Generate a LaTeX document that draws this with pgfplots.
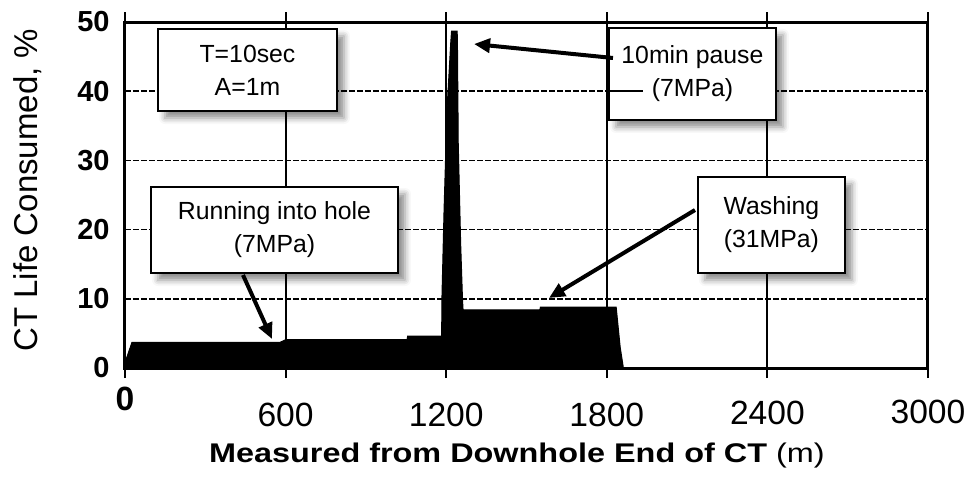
\documentclass[border=0pt]{standalone}
\usepackage{fontspec}
\setmainfont{Liberation Sans}
\newfontfamily\widefont[FakeStretch=1.2]{Liberation Sans}
\usepackage{pgfplots}
\pgfplotsset{compat=1.18}
\usetikzlibrary{arrows.meta,shadows.blur}

\tikzset{
  callout/.style={draw=black, line width=1bp, fill=white, align=center,
    inner sep=0pt, font=\fontsize{12.4bp}{16.5bp}\selectfont,
    blur shadow={shadow xshift=3.5bp, shadow yshift=-3.5bp,
      shadow blur radius=3bp, shadow opacity=45}},
  pointer/.style={line width=2bp, -{Triangle[length=8bp,width=7bp]}}
}

\begin{document}
\begin{tikzpicture}
\useasboundingbox (-62.5bp,-54.5bp) rectangle (420.5bp,184bp);
\begin{axis}[
  scale only axis, width=401.5bp, height=173bp,
  xmin=0, xmax=3000, ymin=0, ymax=50,
  xtick={0,600,1200,1800,2400,3000},
  xticklabels={\raisebox{8bp}{\textbf{0}},600,1200,1800,\raisebox{1bp}{2400},\raisebox{1.5bp}{3000}},
  ytick={0,10,20,30,40,50},
  /pgf/number format/assume math mode=true,
  axis line style={line width=1.5bp},
  xmajorgrids, ymajorgrids,
  x grid style={black, line width=1bp},
  y grid style={black, line width=0.8bp, dash pattern=on 3bp off 1bp},
  xtick align=outside, major tick length=5bp,
  xtick style={black, line width=1bp},
  ytick style={draw=none},
  xticklabel style={font=\fontsize{16.8bp}{18bp}\selectfont, anchor=base,
    inner sep=0pt, yshift=-24bp},
  yticklabel style={font=\fontsize{14.5bp}{16bp}\selectfont\bfseries,
    anchor=east, inner sep=0pt, xshift=-7.5bp},
  xlabel={\widefont\bfseries Measured from Downhole End of CT \mdseries(m)},
  xlabel style={font=\fontsize{13.5bp}{15bp}\selectfont,
    at={(axis description cs:0.488,0)}, anchor=base, yshift=-47bp},
  ylabel={CT Life Consumed, \%},
  ylabel style={font=\fontsize{16.5bp}{18bp}\selectfont,
    at={(axis description cs:-0.1208,0.514)}, anchor=center},
]
% fatigue life consumed along the string
\addplot[fill=black, draw=black, line width=0.5bp] coordinates {
  (0,0) (2,1.0) (26,3.7) (579,3.7) (601,4.1) (1054,4.1) (1056,4.6)
  (1183,4.6) (1184,10) (1192,22.8) (1203,37.3) (1217,47) (1220,48.7)
  (1241,48.7) (1242,47) (1245,32.5) (1254,18) (1261,9.8) (1263,8.4)
  (1550,8.4) (1552,8.8) (1835,8.8) (1850,3) (1862,0)
} \closedcycle;

% callouts
\node[callout, minimum width=89.5bp, minimum height=41bp]
  at (axis cs:457.6,43.06) {T=10sec\\A=1m};
\node[callout, minimum width=123.5bp, minimum height=43bp]
  at (axis cs:558.5,19.94) {Running into hole\\(7MPa)};
\node[callout, minimum width=83.5bp, minimum height=46bp]
  at (axis cs:2120,42.49) {10min pause\\(7MPa)};
\node[callout, minimum width=73.5bp, minimum height=48bp]
  at (axis cs:2415,20.66) {Washing\\(31MPa)};
\draw[black, line width=0.8bp] (axis cs:1808,40) -- (axis cs:1935,40);

\draw[pointer] (axis cs:440.8,13.44) -- (axis cs:549.2,4.19);
\draw[pointer] (axis cs:1823,44.8) -- (axis cs:1304,46.82);
\draw[pointer] (axis cs:2129.5,22.83) -- (axis cs:1584,10.12);
\end{axis}
\end{tikzpicture}
\end{document}
